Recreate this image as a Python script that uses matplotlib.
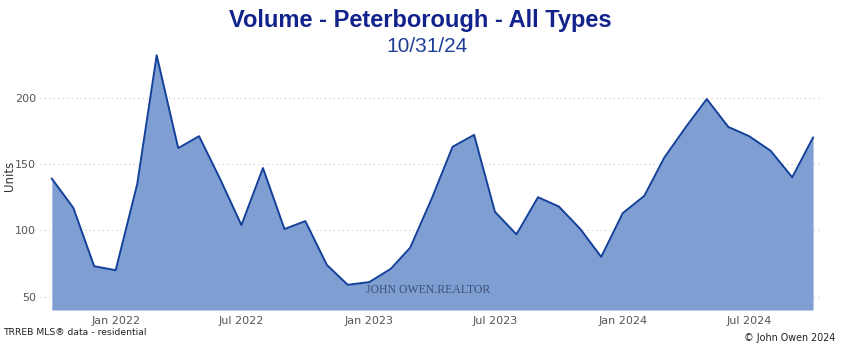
import matplotlib
matplotlib.use('Agg')
import matplotlib.pyplot as plt
import matplotlib.dates as mdates
import numpy as np
import pandas as pd

# monthly sales volume, Oct 2021 .. Oct 2024
months = pd.date_range('2021-10-01', '2024-10-01', freq='MS')
units = [139, 117, 73, 70, 135, 232, 162, 171, 138, 104, 147, 101, 107,
         74, 59, 61, 71, 87, 124, 163, 172, 114, 97, 125, 118, 101, 80,
         113, 126, 155, 178, 199, 178, 171, 160, 140, 170]

y_ticks = [50, 100, 150, 200]
x_ticks = ['2022-01-01', '2022-07-01', '2023-01-01', '2023-07-01',
           '2024-01-01', '2024-07-01']

FILL = '#7f9fd3'
LINE = '#13419a'
TITLE = '#13238c'
GREY = '#555555'

fig = plt.figure(figsize=(8.46, 3.45), dpi=100)
ax = fig.add_axes([40 / 846, 35 / 345, 780 / 846, 268 / 345])

ax.fill_between(months, units, 40, color=FILL, lw=0, zorder=2)
ax.plot(months, units, color=LINE, lw=1.4, zorder=3)

ax.set_ylim(40, 242)
ax.set_xlim(months[0] - pd.Timedelta(days=17), months[-1] + pd.Timedelta(days=10))
ax.set_yticks(y_ticks)
ax.set_xticks(pd.to_datetime(x_ticks))
ax.xaxis.set_major_formatter(mdates.DateFormatter('%b %Y'))
ax.tick_params(length=0, labelsize=8, labelcolor=GREY, pad=4)
ax.tick_params(axis='y', pad=3)
ax.grid(axis='y', color='#c8c8c8', ls=(0, (1, 3)), lw=0.8, zorder=1)
for s in ax.spines.values():
    s.set_visible(False)
ax.set_ylabel('Units', fontsize=8.5, color='#333333')
ax.yaxis.set_label_coords(-0.031, 0.5)

fig.text(0.497, 0.94, 'Volume - Peterborough - All Types', ha='center', va='center',
         fontsize=17, fontweight='bold', color=TITLE, family='Liberation Sans')
fig.text(0.505, 0.865, '10/31/24', ha='center', va='center',
         fontsize=15, color='#1f3f96', family='Liberation Sans')

ax.text(0.497, 0.075, 'JOHN OWEN.REALTOR', transform=ax.transAxes, ha='center',
        va='center', fontsize=8.5, color='#3b4f78', family='Liberation Serif', zorder=4)

fig.text(0.004, 0.035, 'TRREB MLS\u00ae data - residential', ha='left', va='center',
         fontsize=6.7, color='#222222')
fig.text(0.988, 0.02, '\u00a9 John Owen 2024', ha='right', va='center',
         fontsize=6.9, color='#222222')

fig.savefig('out.png', dpi=100, facecolor='white')
